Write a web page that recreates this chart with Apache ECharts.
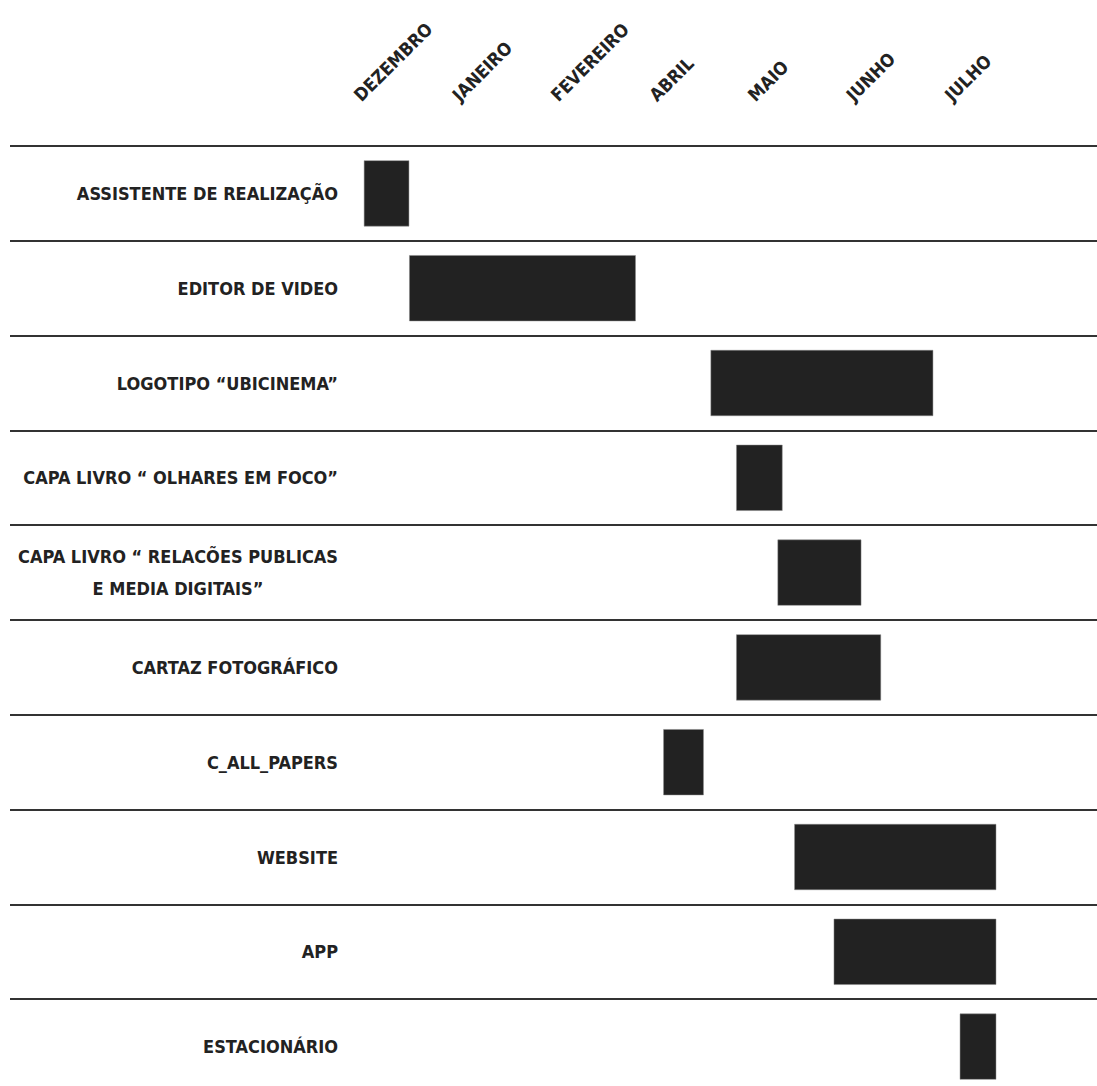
<!DOCTYPE html>
<html>
<head>
<meta charset="utf-8">
<script src="https://cdn.jsdelivr.net/npm/echarts@6/dist/echarts.min.js"></script>
<style>
html,body{margin:0;padding:0;background:#fff;}
#chart{width:1097px;height:1086px;}
</style>
</head>
<body>
<div id="chart"></div>
<script>
// Month tick labels (month index on the time axis)
const months = ['DEZEMBRO', 'JANEIRO', 'FEVEREIRO', 'ABRIL', 'MAIO', 'JUNHO', 'JULHO'];
const monthPos = [0, 1, 2, 3, 4, 5, 6];

// Tasks (top to bottom)
const tasks = [
  'ASSISTENTE DE REALIZAÇÃO',
  'EDITOR DE VIDEO',
  'LOGOTIPO “UBICINEMA”',
  'CAPA LIVRO “ OLHARES EM FOCO”',
  'CAPA LIVRO “ RELACÕES PUBLICAS\nE MEDIA DIGITAIS”',
  'CARTAZ FOTOGRÁFICO',
  'C_ALL_PAPERS',
  'WEBSITE',
  'APP',
  'ESTACIONÁRIO'
];
// start / end in month units (0 = Dezembro)
const startVals = [0.07, 0.53, 3.59, 3.85, 4.27, 3.85, 3.11, 4.44, 4.84, 6.12];
const endVals   = [0.53, 2.83, 5.85, 4.32, 5.12, 5.32, 3.52, 6.49, 6.49, 6.49];

const durations = startVals.map((s, i) => +(endVals[i] - s).toFixed(2));

const FONT = '"DejaVu Sans Condensed", "Liberation Sans Narrow", "DejaVu Sans", sans-serif';
const chart = echarts.init(document.getElementById('chart'), null, {renderer: 'svg'});

chart.setOption({
  backgroundColor: '#ffffff',
  animation: false,
  grid: {left: 10, right: 0, top: 146, height: 948, containLabel: false, outerBoundsMode: 'none'},
  xAxis: {
    type: 'value',
    position: 'top',
    min: -3.523,
    max: 7.513,
    axisLine: {show: false},
    axisTick: {show: false},
    splitLine: {show: false},
    axisLabel: {
      customValues: monthPos,
      rotate: -45,
      margin: 48,
      color: '#222',
      fontFamily: FONT,
      fontWeight: 'bold',
      fontSize: 18,
      formatter: function (v) {
        const i = monthPos.indexOf(Math.round(v));
        return i >= 0 ? months[i] : '';
      }
    }
  },
  yAxis: {
    type: 'category',
    inverse: true,
    data: tasks,
    axisLine: {show: false},
    axisTick: {show: false},
    splitLine: {show: true, interval: 0, lineStyle: {color: '#333', width: 2}},
    axisLabel: {
      inside: true,
      interval: 0,
      align: 'right',
      margin: 328,
      color: '#222',
      fontFamily: FONT,
      fontWeight: 'bold',
      fontSize: 18,
      lineHeight: 32,
      formatter: function (v) {
        return v.split('\n').map(s => '{c|' + s + '}').join('\n');
      },
      rich: {
        c: {align: 'center', fontFamily: FONT, fontWeight: 'bold', fontSize: 18, color: '#222', lineHeight: 32}
      }
    }
  },
  series: [
    {
      type: 'bar',
      stack: 'g',
      data: startVals,
      itemStyle: {color: 'transparent'},
      barWidth: 66,
      silent: true
    },
    {
      type: 'bar',
      stack: 'g',
      data: durations,
      barWidth: 66,
      itemStyle: {color: '#222222', borderColor: '#888', borderWidth: 0.5}
    }
  ]
});
</script>
</body>
</html>
